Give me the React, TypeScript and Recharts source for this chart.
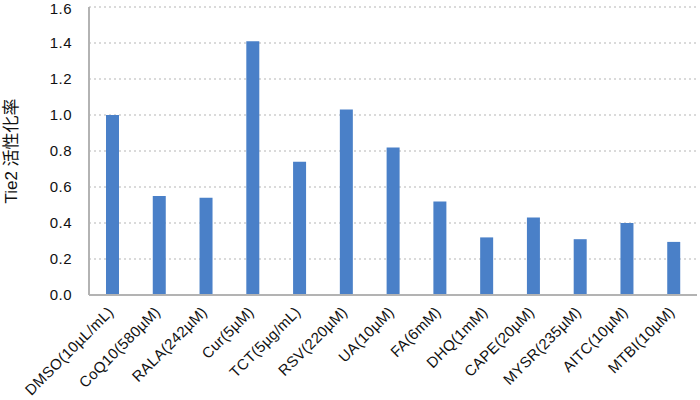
import React from 'react'
import { Bar, BarChart, CartesianGrid, XAxis, YAxis } from 'recharts'

const compounds = [
    'DMSO(10µL/mL)', 'CoQ10(580µM)', 'RALA(242µM)', 'Cur(5µM)', 'TCT(5µg/mL)', 'RSV(220µM)',
    'UA(10µM)', 'FA(6mM)', 'DHQ(1mM)', 'CAPE(20µM)', 'MYSR(235µM)', 'AITC(10µM)', 'MTBI(10µM)'
]
const activation = [1.0, 0.55, 0.54, 1.41, 0.74, 1.03, 0.82, 0.52, 0.32, 0.43, 0.31, 0.4, 0.295]
const yTicks = [0, 0.2, 0.4, 0.6, 0.8, 1.0, 1.2, 1.4, 1.6]

const data = compounds.map((name, i) => ({ name, value: activation[i] }))

const font = '"Liberation Sans", "Noto Sans CJK JP", sans-serif'

const AngledTick = (props: any) => {
    const { x, y, payload } = props
    return (
        <g transform={`translate(${x + 2},${y + 10})`}>
            <text textAnchor="end" fontSize={15} letterSpacing={0.3} fill="#111" fontFamily={font} transform="rotate(-45)">
                {payload.value}
            </text>
        </g>
    )
}

export default function App() {
    return (
        <div style={{ position: 'absolute', left: 0, top: 0, width: 700, height: 400, background: '#fff' }}>
            <BarChart
                width={700}
                height={400}
                data={data}
                margin={{ top: 7, right: 3, bottom: 0, left: 29 }}
            >
                <CartesianGrid vertical={false} strokeDasharray="2 3" stroke="#b5b5b5" />
                <XAxis
                    dataKey="name"
                    interval={0}
                    tickLine={false}
                    axisLine={{ stroke: '#b3b3b3', strokeWidth: 2 }}
                    tick={<AngledTick />}
                    height={105}
                />
                <YAxis
                    width={60}
                    domain={[0, 1.6]}
                    ticks={yTicks}
                    tickFormatter={(v: number) => v.toFixed(1)}
                    tickLine={false}
                    tickMargin={11}
                    axisLine={{ stroke: '#b3b3b3', strokeWidth: 2 }}
                    tick={{ fontSize: 15, fill: '#111', fontFamily: font, letterSpacing: 0.5 }}
                    label={{
                        value: 'Tie2 活性化率',
                        angle: -90,
                        position: 'insideLeft',
                        offset: -18,
                        style: { textAnchor: 'middle', fontSize: 17, fill: '#111', fontFamily: font }
                    }}
                />
                <Bar dataKey="value" fill="#4A80C8" barSize={13} isAnimationActive={false} />
            </BarChart>
        </div>
    )
}
